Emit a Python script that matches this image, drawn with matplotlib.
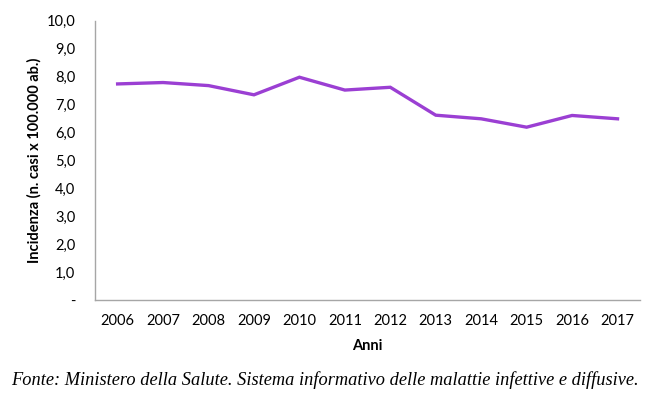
import matplotlib
matplotlib.use("Agg")
import matplotlib.pyplot as plt

years = ["2006", "2007", "2008", "2009", "2010", "2011", "2012", "2013", "2014", "2015", "2016", "2017"]
incidence = [7.74, 7.79, 7.68, 7.35, 7.98, 7.52, 7.62, 6.62, 6.49, 6.19, 6.61, 6.49]
yticks = [0, 1, 2, 3, 4, 5, 6, 7, 8, 9, 10]
ytick_labels = ["-", "1,0", "2,0", "3,0", "4,0", "5,0", "6,0", "7,0", "8,0", "9,0", "10,0"]

plt.rcParams['font.family'] = ['Lato', 'DejaVu Sans']

fig = plt.figure(figsize=(6.5, 4.01), dpi=100)
ax = fig.add_axes([0.146, 0.252, 0.839, 0.696])

x = list(range(len(years)))
ax.plot(x, incidence, color="#9B3FD3", linewidth=2.4, solid_joinstyle="miter")

ax.set_xlim(-0.5, len(years) - 0.5)
ax.set_ylim(0, 10)
ax.set_yticks(yticks)
ax.set_yticklabels(ytick_labels)
ax.set_xticks(x)
ax.set_xticklabels(years)
ax.tick_params(axis="both", length=0, labelsize=10.5, colors="black")
ax.tick_params(axis="y", pad=14)
ax.tick_params(axis="x", pad=10)

for s in ["top", "right"]:
    ax.spines[s].set_visible(False)
for s in ["left", "bottom"]:
    ax.spines[s].set_color("#A6A6A6")
    ax.spines[s].set_linewidth(1.0)

ax.set_xlabel("Anni", fontsize=10.5, fontweight="bold", labelpad=8)
ax.set_ylabel("Incidenza (n. casi x 100.000 ab.)", fontsize=10.5, fontweight="bold", labelpad=4)

fig.text(0.5, 0.052, "Fonte: Ministero della Salute. Sistema informativo delle malattie infettive e diffusive.",
         ha="center", va="center", fontsize=13.2, style="italic", family="Liberation Serif")

fig.savefig("out.png", dpi=100)
